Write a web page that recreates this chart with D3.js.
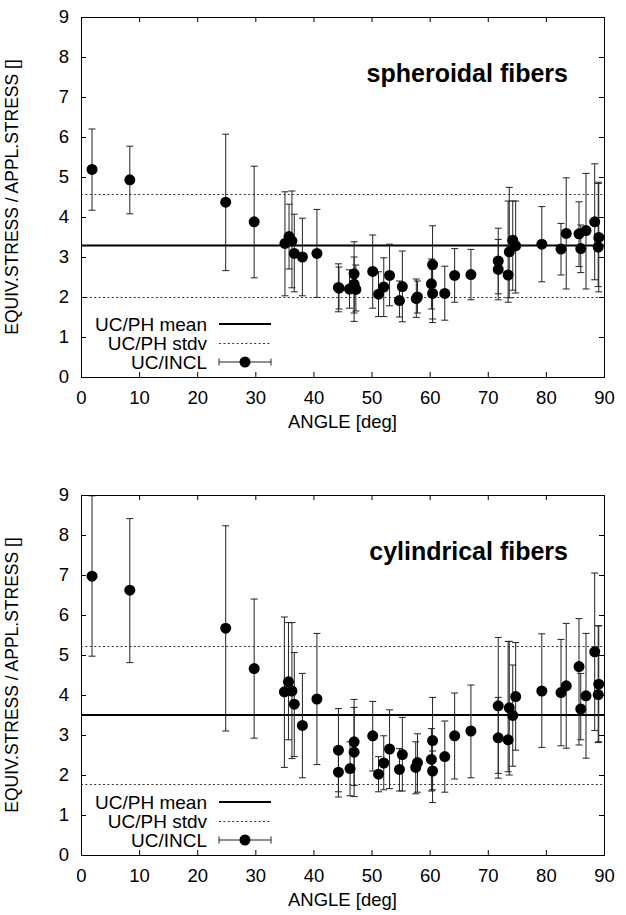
<!DOCTYPE html>
<html>
<head>
<meta charset="utf-8">
<script src="https://cdn.jsdelivr.net/npm/d3@7"></script>
<style>
  html, body { margin: 0; padding: 0; background: #fff; }
  svg { display: block; }
  text { font-family: "Liberation Sans", Arial, Helvetica, sans-serif; fill: #000; }
</style>
</head>
<body>
<svg id="chart" width="626" height="915"></svg>
<script>
// ---------- DATA ----------
const xTicks = [0, 10, 20, 30, 40, 50, 60, 70, 80, 90];
const yTicks = [0, 1, 2, 3, 4, 5, 6, 7, 8, 9];
const legendLabels = ["UC/PH mean", "UC/PH stdv", "UC/INCL"];
const panelTitles = ["spheroidal fibers", "cylindrical fibers"];

// spheroidal fibers
const sphAngle = [1.9, 8.4, 24.9, 29.8, 35.1, 35.8, 36.3, 36.7, 38.1, 40.6, 44.3, 44.4, 46.2, 47.0, 47.0, 47.3,
  50.2, 51.2, 52.1, 53.1, 54.8, 55.3, 57.7, 57.9, 60.3, 60.5, 60.5, 62.6, 64.3, 67.1, 71.8, 71.8,
  73.5, 73.7, 74.3, 74.8, 79.3, 82.6, 83.5, 85.7, 86.0, 86.9, 88.4, 89.0, 89.1];
const sphValue = [5.19, 4.93, 4.37, 3.88, 3.34, 3.51, 3.40, 3.09, 3.00, 3.09, 2.24, 2.22, 2.20, 2.58, 2.32, 2.19,
  2.64, 2.07, 2.25, 2.54, 1.91, 2.26, 1.96, 2.00, 2.33, 2.81, 2.09, 2.09, 2.54, 2.56, 2.90, 2.69,
  2.55, 3.13, 3.42, 3.28, 3.32, 3.20, 3.59, 3.58, 3.21, 3.66, 3.88, 3.25, 3.49];
const sphLow = [4.17, 4.08, 2.66, 2.48, 2.03, 2.70, 2.23, 2.13, 2.03, 1.99, 1.63, 1.70, 1.72, 1.39, 1.60, 1.65,
  1.72, 1.51, 1.51, 1.78, 1.50, 1.38, 1.49, 1.60, 1.70, 1.36, 1.45, 1.42, 1.87, 1.93, 1.93, 2.08,
  1.87, 1.98, 2.17, 2.10, 2.38, 2.55, 2.20, 2.76, 2.61, 2.20, 2.43, 2.26, 2.13];
const sphHigh = [6.20, 5.77, 6.07, 5.27, 4.63, 4.32, 4.65, 4.07, 3.97, 4.19, 2.83, 2.75, 2.68, 3.38, 3.00, 2.80,
  3.55, 2.63, 2.98, 3.32, 2.40, 3.15, 2.45, 2.40, 2.95, 3.78, 2.70, 2.77, 3.21, 3.19, 3.72, 3.44,
  4.40, 4.74, 4.40, 4.40, 4.26, 3.84, 4.98, 4.38, 3.80, 5.09, 5.33, 4.84, 4.87];
const sphMean = 3.29, sphStdvHigh = 4.58, sphStdvLow = 2.0;

// cylindrical fibers
const cylAngle = [1.9, 8.4, 24.9, 29.8, 35.0, 35.7, 36.3, 36.7, 38.1, 40.6, 44.3, 44.3, 46.3, 47.0, 47.0,
  50.2, 51.2, 52.1, 53.1, 54.8, 55.3, 57.6, 57.9, 60.3, 60.5, 60.5, 62.6, 64.3, 67.1, 71.8, 71.8,
  73.5, 73.7, 74.3, 74.8, 79.3, 82.6, 83.5, 85.7, 86.0, 86.9, 88.4, 89.0, 89.1];
const cylValue = [6.97, 6.62, 5.67, 4.66, 4.08, 4.33, 4.10, 3.77, 3.24, 3.90, 2.62, 2.07, 2.16, 2.83, 2.57,
  2.98, 2.02, 2.30, 2.65, 2.14, 2.51, 2.19, 2.31, 2.39, 2.86, 2.10, 2.46, 2.98, 3.10, 3.73, 2.93,
  2.88, 3.68, 3.49, 3.96, 4.10, 4.06, 4.23, 4.71, 3.65, 3.98, 5.08, 4.01, 4.27];
const cylLow = [4.97, 4.81, 3.10, 2.92, 2.19, 2.88, 2.41, 2.46, 1.93, 2.26, 1.58, 1.45, 1.48, 1.46, 1.74,
  2.10, 1.58, 1.63, 1.66, 1.60, 1.60, 1.53, 1.57, 1.60, 1.31, 1.63, 1.57, 1.90, 1.93, 2.04, 1.92,
  2.08, 2.00, 2.22, 2.62, 2.69, 2.73, 2.67, 2.75, 2.88, 2.42, 3.11, 2.81, 2.83];
const cylHigh = [8.98, 8.41, 8.23, 6.40, 5.95, 5.81, 5.81, 5.06, 4.54, 5.54, 3.66, 2.70, 2.83, 3.89, 3.69,
  3.84, 2.46, 2.98, 3.63, 2.66, 3.44, 2.83, 3.03, 3.16, 3.94, 2.60, 3.35, 4.05, 4.25, 5.44, 3.94,
  5.34, 5.34, 4.75, 5.31, 5.53, 5.39, 5.79, 5.91, 4.54, 5.54, 7.05, 5.73, 5.73];
const cylMean = 3.5, cylStdvHigh = 5.23, cylStdvLow = 1.77;

// ---------- DRAW ----------
const svg = d3.select("#chart");
const FONT = 18.5;
const left = 81, right = 604;

const panels = [
  { top: 17, bottom: 377, title: panelTitles[0],
    angle: sphAngle, value: sphValue, low: sphLow, high: sphHigh,
    mean: sphMean, sHi: sphStdvHigh, sLo: sphStdvLow },
  { top: 495, bottom: 855, title: panelTitles[1],
    angle: cylAngle, value: cylValue, low: cylLow, high: cylHigh,
    mean: cylMean, sHi: cylStdvHigh, sLo: cylStdvLow }
];

panels.forEach(p => {
  const x = d3.scaleLinear().domain([0, 90]).range([left, right]);
  const y = d3.scaleLinear().domain([0, 9]).range([p.bottom, p.top]);
  const g = svg.append("g");

  // reference lines
  g.append("line").attr("x1", x(0)).attr("x2", x(90)).attr("y1", y(p.mean)).attr("y2", y(p.mean))
    .attr("stroke", "#000").attr("stroke-width", 2);
  [p.sHi, p.sLo].forEach(v => {
    g.append("line").attr("x1", x(0)).attr("x2", x(90)).attr("y1", Math.round(y(v)) + 0.5).attr("y2", Math.round(y(v)) + 0.5)
      .attr("stroke", "#333").attr("stroke-width", 1).attr("stroke-dasharray", "2,2.4");
  });

  // error bars
  const data = p.angle.map((a, i) => ({ a, v: p.value[i], lo: p.low[i], hi: p.high[i] }));
  const eb = g.append("g").attr("stroke", "#222").attr("stroke-width", 1);
  data.forEach(d => {
    const cx = x(d.a);
    eb.append("line").attr("x1", cx).attr("x2", cx).attr("y1", y(d.lo)).attr("y2", y(d.hi));
    eb.append("line").attr("x1", cx - 3.5).attr("x2", cx + 3.5).attr("y1", y(d.lo)).attr("y2", y(d.lo));
    eb.append("line").attr("x1", cx - 3.5).attr("x2", cx + 3.5).attr("y1", y(d.hi)).attr("y2", y(d.hi));
  });
  g.append("g").selectAll("circle").data(data).join("circle")
    .attr("cx", d => x(d.a)).attr("cy", d => y(d.v)).attr("r", 5.5).attr("fill", "#000");

  // axes (ticks inward, mirrored)
  const tickLen = 5;
  const axB = g.append("g").attr("transform", `translate(0,${p.bottom})`)
    .call(d3.axisBottom(x).tickValues(xTicks).tickSize(-tickLen).tickPadding(tickLen + 9).tickFormat(d3.format("d")));
  const axT = g.append("g").attr("transform", `translate(0,${p.top})`)
    .call(d3.axisTop(x).tickValues(xTicks).tickSize(-tickLen).tickFormat(""));
  const axL = g.append("g").attr("transform", `translate(${left},0)`)
    .call(d3.axisLeft(y).tickValues(yTicks).tickSize(-tickLen).tickPadding(tickLen + 7).tickFormat(d3.format("d")));
  const axR = g.append("g").attr("transform", `translate(${right},0)`)
    .call(d3.axisRight(y).tickValues(yTicks).tickSize(-tickLen).tickFormat(""));
  [axB, axT, axL, axR].forEach(a => {
    a.select(".domain").remove();
    a.selectAll("line").attr("stroke", "#000");
    a.selectAll("text").attr("font-size", FONT).attr("font-family", "Liberation Sans, Arial, sans-serif").attr("fill", "#000");
  });
  g.append("rect").attr("x", left + 0.5).attr("y", p.top + 0.5).attr("width", right - left).attr("height", p.bottom - p.top)
    .attr("fill", "none").attr("stroke", "#000").attr("stroke-width", 1);

  // axis titles
  g.append("text").attr("x", (left + right) / 2).attr("y", p.bottom + 51)
    .attr("text-anchor", "middle").attr("font-size", FONT).text("ANGLE [deg]");
  g.append("text").attr("transform", `translate(12,${(p.top + p.bottom) / 2}) rotate(-90)`)
    .attr("text-anchor", "middle").attr("dominant-baseline", "central").attr("font-size", 17.5)
    .text("EQUIV.STRESS / APPL.STRESS []");

  // panel title
  g.append("text").attr("x", 568).attr("y", p.top + 65).attr("text-anchor", "end")
    .attr("font-size", 25).attr("font-weight", "bold").text(p.title);

  // legend
  const lg = g.append("g");
  const rows = [p.bottom - 53, p.bottom - 34, p.bottom - 15];
  rows.forEach((ry, i) => {
    lg.append("text").attr("x", 207).attr("y", ry).attr("text-anchor", "end")
      .attr("dominant-baseline", "central").attr("font-size", 19).text(legendLabels[i]);
  });
  lg.append("line").attr("x1", 219).attr("x2", 271).attr("y1", rows[0]).attr("y2", rows[0])
    .attr("stroke", "#000").attr("stroke-width", 2);
  lg.append("line").attr("x1", 219).attr("x2", 271).attr("y1", Math.round(rows[1]) + 0.5).attr("y2", Math.round(rows[1]) + 0.5)
    .attr("stroke", "#333").attr("stroke-width", 1).attr("stroke-dasharray", "2,2.4");
  lg.append("line").attr("x1", 219).attr("x2", 271).attr("y1", rows[2]).attr("y2", rows[2])
    .attr("stroke", "#222").attr("stroke-width", 1);
  [219, 271].forEach(cx => lg.append("line").attr("x1", cx).attr("x2", cx)
    .attr("y1", rows[2] - 3.5).attr("y2", rows[2] + 3.5).attr("stroke", "#222").attr("stroke-width", 1));
  lg.append("circle").attr("cx", 245).attr("cy", rows[2]).attr("r", 5.5).attr("fill", "#000");
});
</script>
</body>
</html>
